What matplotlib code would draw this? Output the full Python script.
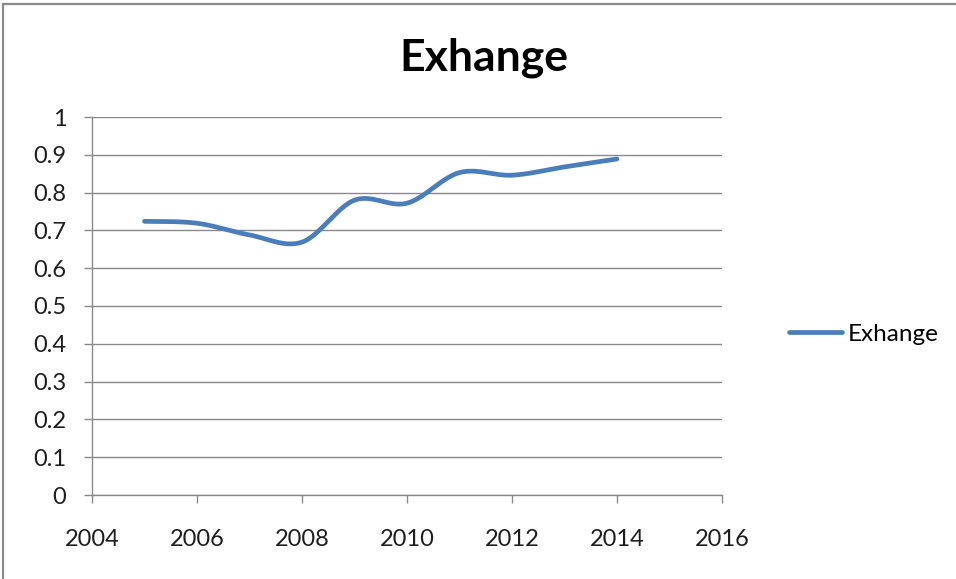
import numpy as np
import matplotlib.pyplot as plt
from matplotlib.patches import Rectangle

years = [2005, 2006, 2007, 2008, 2009, 2010, 2011, 2012, 2013, 2014]
exchange = [0.724, 0.719, 0.688, 0.669, 0.780, 0.772, 0.853, 0.846, 0.868, 0.889]
series_name = "Exhange"


def smooth_curve(xs, ys, steps=30):
    # Catmull-Rom style bezier through every point, like a spreadsheet "smoothed line"
    pts = np.column_stack((xs, ys)).astype(float)
    pad = np.vstack([pts[0], pts, pts[-1]])
    out = []
    t = np.linspace(0, 1, steps)[:, None]
    for i in range(1, len(pad) - 2):
        p0, p1, p2, p3 = pad[i - 1], pad[i], pad[i + 1], pad[i + 2]
        c1 = p1 + (p2 - p0) / 6.0
        c2 = p2 - (p3 - p1) / 6.0
        seg = ((1 - t) ** 3) * p1 + 3 * ((1 - t) ** 2) * t * c1 + 3 * (1 - t) * t ** 2 * c2 + t ** 3 * p2
        out.append(seg if i == 1 else seg[1:])
    seg = np.vstack(out)
    return seg[:, 0], seg[:, 1]


plt.rcParams['font.family'] = ['Lato', 'DejaVu Sans']

fig = plt.figure(figsize=(9.56, 5.79), dpi=100)
W, H = 956, 579
ax = fig.add_axes([92 / W, 1 - 495 / H, (722 - 92) / W, (495 - 117) / H])

# outer chart border
fig.patches.append(Rectangle((3 / W, -0.1), 1.2, 1 - 4 / H + 0.1, transform=fig.transFigure,
                             fill=False, edgecolor='#8c8c8c', linewidth=1.6))

sx, sy = smooth_curve(years, exchange)
ax.plot(sx, sy, color='#4a7ebb', linewidth=3.4, solid_capstyle='round', label=series_name)

ax.set_xlim(2004, 2016)
ax.set_ylim(0, 1)
ax.set_xticks(np.arange(2004, 2017, 2))
ax.set_yticks(np.round(np.arange(0, 1.01, 0.1), 1))
ax.set_yticklabels(['0', '0.1', '0.2', '0.3', '0.4', '0.5', '0.6', '0.7', '0.8', '0.9', '1'])

ax.grid(axis='y', color='#8a8a8a', linewidth=1.0)
ax.set_axisbelow(True)
for side in ('top', 'right'):
    ax.spines[side].set_visible(False)
for side in ('left', 'bottom'):
    ax.spines[side].set_color('#8a8a8a')
    ax.spines[side].set_linewidth(1.0)
ax.tick_params(axis='both', colors='#8a8a8a', labelcolor='#1e1e1e', labelsize=17,
               length=5.5, width=1.0, direction='out')
ax.tick_params(axis='x', pad=19)
ax.tick_params(axis='y', pad=13)

fig.text(484 / W, 1 - 58 / H, "Exhange", ha='center', va='center', fontsize=32, fontweight='bold')

ax.legend(loc='center left', bbox_to_anchor=(782 / W, 1 - 334 / H), bbox_transform=fig.transFigure,
          frameon=False, fontsize=17.5, handlelength=2.15, handletextpad=0.25,
          borderaxespad=0, borderpad=0.3)

fig.savefig('out.png', dpi=100, facecolor='white')
